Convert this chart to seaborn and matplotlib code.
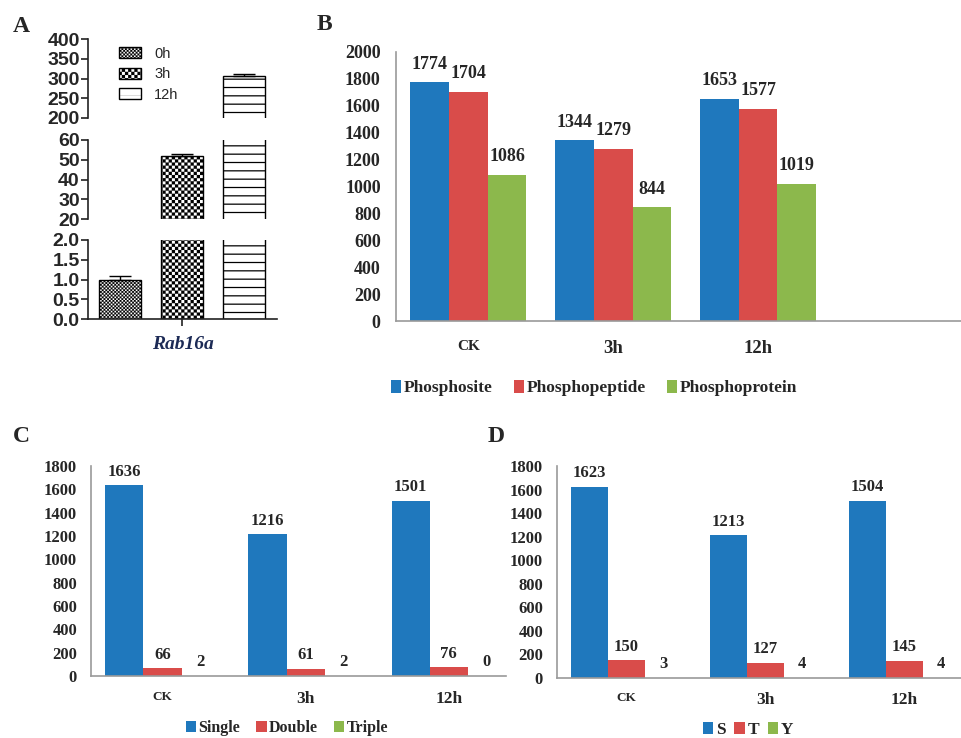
import numpy as np
import pandas as pd
import matplotlib
matplotlib.use('Agg')
import matplotlib.pyplot as plt
import matplotlib.hatch as mhatch
from matplotlib.path import Path
import seaborn as sns

# Panel A: Rab16a relative expression
a_times = ['0h', '3h', '12h']
a_values = [1.0, 51.8, 306]
a_errors = [0.08, 0.9, 5]

# Panels B-D: phospho counts per treatment
groups = ['CK', '3h', '12h']

b_series = ['Phosphosite', 'Phosphopeptide', 'Phosphoprotein']
b_site = [1774, 1344, 1653]
b_peptide = [1704, 1279, 1577]
b_protein = [1086, 844, 1019]

c_series = ['Single', 'Double', 'Triple']
c_single = [1636, 1216, 1501]
c_double = [66, 61, 76]
c_triple = [2, 2, 0]

d_series = ['S', 'T', 'Y']
d_s = [1623, 1213, 1504]
d_t = [150, 127, 145]
d_y = [3, 4, 4]

colors = ['#1f78bd', '#d94c4a', '#8cb84c']


# checkerboard hatch ('O' repeated), replaces the large circles pattern
class CheckerHatch(mhatch.HatchPatternBase):
    def __init__(self, hatch, density):
        self.n = hatch.count('O') * 4
        self.num_vertices = 2 * self.n * self.n * 5

    def set_vertices_and_codes(self, vertices, codes):
        step = 0.5 / self.n
        k = 0
        for i in range(2 * self.n):
            for j in range(2 * self.n):
                if (i + j) % 2:
                    continue
                x0, y0 = i * step, j * step
                vertices[k:k + 5] = [(x0, y0), (x0 + step, y0), (x0 + step, y0 + step),
                                     (x0, y0 + step), (x0, y0)]
                codes[k:k + 5] = [Path.MOVETO, Path.LINETO, Path.LINETO, Path.LINETO, Path.CLOSEPOLY]
                k += 5


mhatch._hatch_types = [t for t in mhatch._hatch_types if t is not mhatch.LargeCircles] + [CheckerHatch]

sns.set_style('white')
plt.rcParams['hatch.linewidth'] = 0.1
plt.rcParams['font.family'] = ['Liberation Serif', 'DejaVu Serif']

W, H = 961, 738
fig = plt.figure(figsize=(W / 100, H / 100), dpi=100)


def px_axes(left, top, right, bottom):
    return fig.add_axes([left / W, 1 - bottom / H, (right - left) / W, (bottom - top) / H])


# ---------------- Panel A (broken axis) ----------------
a_df = pd.DataFrame({'time': a_times, 'value': a_values})
a_hatches = ['OOOOOOO', 'OOOO', '--']
a_hatch_lw = [0.1, 0.1, 0.9]
a_axes = [px_axes(88, 39, 277, 118), px_axes(88, 140, 277, 219), px_axes(88, 240, 277, 319)]
a_lims = [(200, 400), (20, 60), (0, 2)]
a_ticks = [np.arange(200, 401, 50), np.arange(20, 61, 10), np.arange(0, 2.01, 0.5)]

for i, (ax, lim, ticks) in enumerate(zip(a_axes, a_lims, a_ticks)):
    sns.barplot(data=a_df, x='time', y='value', color='white', saturation=1, edgecolor='black',
                linewidth=1.0, width=0.67, errorbar=None, ax=ax)
    for bar, h, lw in zip(ax.patches, a_hatches, a_hatch_lw):
        bar.set_hatch(h)
        if hasattr(bar, 'set_hatch_linewidth'):
            bar.set_hatch_linewidth(lw)
    ax.errorbar(range(len(a_times)), a_values, yerr=[np.zeros(len(a_errors)), a_errors],
                fmt='none', ecolor='black', elinewidth=1.0, capsize=8, capthick=1.0)
    ax.set_ylim(*lim)
    ax.set_xlim(-0.52, 2.53)
    ax.set_yticks(ticks)
    if i == 2:
        ax.set_yticklabels([f'{t:.1f}' for t in ticks])
    else:
        ax.set_yticklabels([f'{t:.0f}' for t in ticks])
    ax.set_xlabel('')
    ax.set_ylabel('')
    ax.patch.set_alpha(0)
    for side in ['top', 'right']:
        ax.spines[side].set_visible(False)
    ax.spines['left'].set_linewidth(1.2)
    ax.spines['left'].set_color('#222222')
    ax.tick_params(axis='y', length=5, width=1.2, pad=1, direction='out', left=True, color='#222222')
    for lab in ax.get_yticklabels():
        lab.set_fontfamily('Liberation Sans')
        lab.set_fontweight('bold')
        lab.set_fontsize(14)
    if i < 2:
        ax.spines['bottom'].set_visible(False)
        ax.set_xticks([])
    else:
        ax.spines['bottom'].set_linewidth(1.2)
        ax.spines['bottom'].set_color('#222222')
        ax.set_xticks([1])
        ax.set_xticklabels([''])
        ax.tick_params(axis='x', length=5, width=1.2, bottom=True, color='#222222')
        ax.set_xlabel('Rab16a', fontsize=14, fontweight='bold', fontstyle='italic',
                      color='#1c2a55', labelpad=4)

a_axes[0].legend(a_axes[0].patches[:3], a_times, loc='upper left',
                 bbox_to_anchor=(18 / 189, 1.07), frameon=False,
                 prop={'family': 'Liberation Sans', 'size': 10.5},
                 handlelength=1.5, handleheight=0.8, handletextpad=0.9, labelspacing=0.45)

fig.text(13 / W, 1 - 27 / H, 'A', fontsize=17, fontweight='bold', va='center')


# ---------------- Panels B, C, D ----------------
def group_panel(ax, series, values, tick_size, label_size, label_pad, ck_size, other_size, xpad,
                ylim, xmax, ytick_pad, yticks):
    df = pd.DataFrame({
        'group': groups * len(series),
        'series': np.repeat(series, len(groups)),
        'value': np.concatenate(values),
    })
    sns.barplot(data=df, x='group', y='value', hue='series', order=groups, hue_order=series,
                palette=colors, saturation=1, width=0.8, linewidth=0, errorbar=None,
                legend=False, ax=ax)
    for cont in ax.containers:
        ax.bar_label(cont, padding=label_pad, fontsize=label_size, fontweight='bold')
    ax.set_ylim(0, ylim)
    ax.set_xlim(-0.5, xmax)
    ax.set_yticks(yticks)
    ax.set_xlabel('')
    ax.set_ylabel('')
    ax.patch.set_alpha(0)
    for side in ['top', 'right']:
        ax.spines[side].set_visible(False)
    for side in ['left', 'bottom']:
        ax.spines[side].set_color('#9a9a9a')
        ax.spines[side].set_linewidth(1.2)
    ax.tick_params(axis='both', length=0)
    ax.tick_params(axis='y', pad=ytick_pad)
    ax.tick_params(axis='x', pad=xpad)
    for lab in ax.get_yticklabels():
        lab.set_fontweight('bold')
        lab.set_fontsize(tick_size)
    for lab in ax.get_xticklabels():
        lab.set_fontweight('bold')
        lab.set_fontsize(ck_size if lab.get_text() == 'CK' else other_size)


ax_b = px_axes(396, 52, 961, 321)
group_panel(ax_b, b_series, [b_site, b_peptide, b_protein], 13, 13, 7, 11, 13.5, 14,
            2000, 3.4, 11, np.arange(0, 2001, 200))
fig.legend([c[0] for c in ax_b.containers], b_series, loc='center',
           bbox_to_anchor=(594 / W, 1 - 388 / H), ncol=3, frameon=False,
           prop={'weight': 'bold', 'size': 12.5}, handlelength=0.6, handleheight=0.75,
           handletextpad=0.15, columnspacing=1.2)
fig.text(317 / W, 1 - 25 / H, 'B', fontsize=17, fontweight='bold', va='center')

ax_c = px_axes(91, 466, 506, 676)
group_panel(ax_c, c_series, [c_single, c_double, c_triple], 12, 12, 4, 9.5, 12.5, 11,
            1800, 2.4, 10, np.arange(0, 1801, 200))
fig.legend([c[0] for c in ax_c.containers], c_series, loc='center',
           bbox_to_anchor=(287 / W, 1 - 728 / H), ncol=3, frameon=False,
           prop={'weight': 'bold', 'size': 11.5}, handlelength=0.65, handleheight=0.75,
           handletextpad=0.15, columnspacing=1.0)
fig.text(13 / W, 1 - 436 / H, 'C', fontsize=17, fontweight='bold', va='center')

ax_d = px_axes(557, 466, 961, 678)
group_panel(ax_d, d_series, [d_s, d_t, d_y], 12, 12, 4, 9.5, 12.5, 10,
            1800, 2.41, 10, np.arange(0, 1801, 200))
fig.legend([c[0] for c in ax_d.containers], d_series, loc='center',
           bbox_to_anchor=(748 / W, 1 - 730 / H), ncol=3, frameon=False,
           prop={'weight': 'bold', 'size': 12.5}, handlelength=0.6, handleheight=0.7,
           handletextpad=0.15, columnspacing=0.5)
fig.text(488 / W, 1 - 436 / H, 'D', fontsize=17, fontweight='bold', va='center')

fig.savefig('out.png', dpi=100, facecolor='white')
